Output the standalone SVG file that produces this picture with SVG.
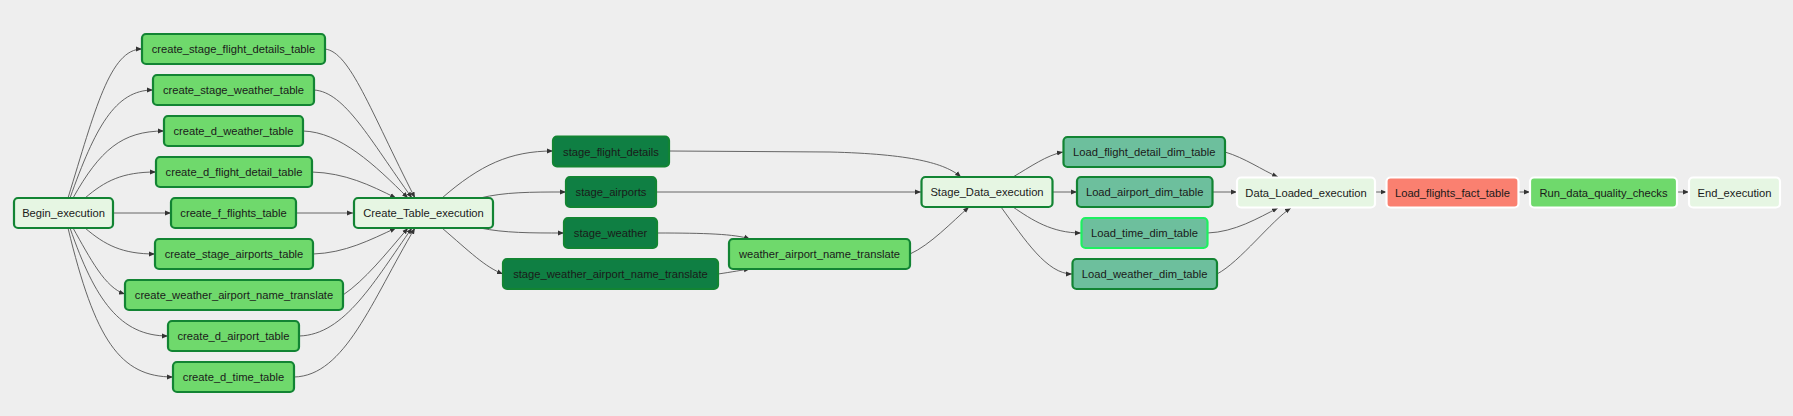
<svg xmlns="http://www.w3.org/2000/svg" width="1793" height="416" viewBox="0 0 1793 416">
<style>
.bg{fill:#eeeeee}
.n rect{stroke-width:2.2;rx:4;ry:4}
.n text{font-family:"Liberation Sans",Arial,sans-serif;font-size:11.2px;fill:#1a1a1a;text-anchor:middle;dominant-baseline:central}
.c rect{fill:#6fd96c;stroke:#128433}
.s rect{fill:#0f7f43;stroke:#128433}
.l rect{fill:#6dbf9d;stroke:#128433}
.x rect{fill:#e6f6e3;stroke:#128433}
.w rect{fill:#e6f6e3;stroke:#ffffff}
.e path{fill:none;stroke:#555555;stroke-width:0.9}
</style>
<defs>
<marker id="ah" markerUnits="userSpaceOnUse" markerWidth="6" markerHeight="6" viewBox="0 0 6 6" refX="6" refY="3" orient="auto">
<path d="M0,0.6 L6,3 L0,5.4 z" fill="#333333"/>
</marker>
</defs>
<rect class="bg" x="0" y="0" width="1793" height="416"/>
<g id="connectors" class="e">
<path d="M68,198 C95,110 110,49 142,49" marker-end="url(#ah)"/>
<path d="M70,198 C95,128 115,90 153,90" marker-end="url(#ah)"/>
<path d="M73,198 C100,150 122,131 164,131" marker-end="url(#ah)"/>
<path d="M85,198 C105,181 122,172 156,172" marker-end="url(#ah)"/>
<path d="M113,213 L171,213" marker-end="url(#ah)"/>
<path d="M85,228 C105,245 122,254 155,254" marker-end="url(#ah)"/>
<path d="M73,228 C90,258 105,288 125,294" marker-end="url(#ah)"/>
<path d="M70,228 C95,300 120,336 168,336" marker-end="url(#ah)"/>
<path d="M68,228 C95,340 120,377 173,377" marker-end="url(#ah)"/>
<path d="M325,49 C350,52 370,110 415,198" marker-end="url(#ah)"/>
<path d="M314,90 C345,92 370,140 412,198" marker-end="url(#ah)"/>
<path d="M303,131 C340,132 375,165 408,198" marker-end="url(#ah)"/>
<path d="M312,172 C345,173 370,185 396,198" marker-end="url(#ah)"/>
<path d="M296,213 L353,213" marker-end="url(#ah)"/>
<path d="M313,254 C345,253 370,240 396,228" marker-end="url(#ah)"/>
<path d="M343,295 C365,280 385,255 408,228" marker-end="url(#ah)"/>
<path d="M299,336 C345,335 375,280 412,228" marker-end="url(#ah)"/>
<path d="M294,377 C345,376 372,300 415,228" marker-end="url(#ah)"/>
<path d="M442,198 C480,165 510,151 553,151" marker-end="url(#ah)"/>
<path d="M480,198 C505,192 530,192 566,192" marker-end="url(#ah)"/>
<path d="M480,228 C505,233 530,233 564,233" marker-end="url(#ah)"/>
<path d="M442,228 C470,252 485,267 503,274" marker-end="url(#ah)"/>
<path d="M669,151 L830,152 C910,154 945,163 961,177" marker-end="url(#ah)"/>
<path d="M656,192 L921,192" marker-end="url(#ah)"/>
<path d="M657,233 C705,233 735,234 750,239" marker-end="url(#ah)"/>
<path d="M718,274 C732,272 742,270 750,269" marker-end="url(#ah)"/>
<path d="M910,254 C930,245 952,222 969,207" marker-end="url(#ah)"/>
<path d="M1013,177 C1030,167 1047,155 1063,152" marker-end="url(#ah)"/>
<path d="M1053,192 L1077,192" marker-end="url(#ah)"/>
<path d="M1013,207 C1032,220 1052,233 1081,233" marker-end="url(#ah)"/>
<path d="M1001,207 C1025,240 1047,274 1072,274" marker-end="url(#ah)"/>
<path d="M1225,152 C1245,158 1262,170 1278,177" marker-end="url(#ah)"/>
<path d="M1212.5,192 L1237,192" marker-end="url(#ah)"/>
<path d="M1207.5,233 C1235,232 1258,218 1278,208" marker-end="url(#ah)"/>
<path d="M1217,274 C1240,262 1272,220 1291,208" marker-end="url(#ah)"/>
<path d="M1375,192 L1386.5,192" marker-end="url(#ah)"/>
<path d="M1518.5,192 L1530,192" marker-end="url(#ah)"/>
<path d="M1677,192 L1689,192" marker-end="url(#ah)"/>
</g>
<g id="Begin_execution" class="n x"><rect x="14" y="198" width="99" height="30"/><text x="63.5" y="213">Begin_execution</text></g>
<g id="create_stage_flight_details_table" class="n c"><rect x="142" y="34" width="183" height="30"/><text x="233.5" y="49">create_stage_flight_details_table</text></g>
<g id="create_stage_weather_table" class="n c"><rect x="153" y="75" width="161" height="30"/><text x="233.5" y="90">create_stage_weather_table</text></g>
<g id="create_d_weather_table" class="n c"><rect x="164" y="116" width="139" height="30"/><text x="233.5" y="131">create_d_weather_table</text></g>
<g id="create_d_flight_detail_table" class="n c"><rect x="156" y="157" width="156" height="30"/><text x="234" y="172">create_d_flight_detail_table</text></g>
<g id="create_f_flights_table" class="n c"><rect x="171" y="198" width="125" height="30"/><text x="233.5" y="213">create_f_flights_table</text></g>
<g id="create_stage_airports_table" class="n c"><rect x="155" y="239" width="158" height="30"/><text x="234" y="254">create_stage_airports_table</text></g>
<g id="create_weather_airport_name_translate" class="n c"><rect x="125" y="280" width="218" height="30"/><text x="234" y="295">create_weather_airport_name_translate</text></g>
<g id="create_d_airport_table" class="n c"><rect x="168" y="321" width="131" height="30"/><text x="233.5" y="336">create_d_airport_table</text></g>
<g id="create_d_time_table" class="n c"><rect x="173" y="362" width="121" height="30"/><text x="233.5" y="377">create_d_time_table</text></g>
<g id="Create_Table_execution" class="n x"><rect x="354" y="198" width="139" height="30"/><text x="423.5" y="213">Create_Table_execution</text></g>
<g id="stage_flight_details" class="n s"><rect x="553" y="136.5" width="116" height="30"/><text x="611" y="151.5">stage_flight_details</text></g>
<g id="stage_airports" class="n s"><rect x="566" y="177" width="90" height="30"/><text x="611" y="192">stage_airports</text></g>
<g id="stage_weather" class="n s"><rect x="564" y="218" width="93" height="30"/><text x="610.5" y="233">stage_weather</text></g>
<g id="stage_weather_airport_name_translate" class="n s"><rect x="503" y="259" width="215" height="30"/><text x="610.5" y="274">stage_weather_airport_name_translate</text></g>
<g id="weather_airport_name_translate" class="n c"><rect x="729" y="239" width="181" height="30"/><text x="819.5" y="254">weather_airport_name_translate</text></g>
<g id="Stage_Data_execution" class="n x"><rect x="921.5" y="177" width="131" height="30"/><text x="987" y="192">Stage_Data_execution</text></g>
<g id="Load_flight_detail_dim_table" class="n l"><rect x="1063.5" y="137" width="161.5" height="30"/><text x="1144.3" y="152">Load_flight_detail_dim_table</text></g>
<g id="Load_airport_dim_table" class="n l"><rect x="1077" y="177" width="135.5" height="30"/><text x="1144.7" y="192">Load_airport_dim_table</text></g>
<g id="Load_time_dim_table" class="n l"><rect x="1081.5" y="218" width="126" height="30" style="stroke:#1ef060"/><text x="1144.5" y="233">Load_time_dim_table</text></g>
<g id="Load_weather_dim_table" class="n l"><rect x="1072.5" y="259" width="144.5" height="30"/><text x="1144.7" y="274">Load_weather_dim_table</text></g>
<g id="Data_Loaded_execution" class="n w"><rect x="1237" y="177.5" width="138" height="30"/><text x="1306" y="192.5">Data_Loaded_execution</text></g>
<g id="Load_flights_fact_table" class="n w"><rect x="1386.5" y="177.5" width="132" height="30" style="fill:#fa8070"/><text x="1452.5" y="192.5">Load_flights_fact_table</text></g>
<g id="Run_data_quality_checks" class="n w"><rect x="1530" y="177.5" width="147" height="30" style="fill:#6fd96c"/><text x="1603.5" y="192.5">Run_data_quality_checks</text></g>
<g id="End_execution" class="n w"><rect x="1689" y="177.5" width="91" height="30"/><text x="1734.5" y="192.5">End_execution</text></g>
</svg>
